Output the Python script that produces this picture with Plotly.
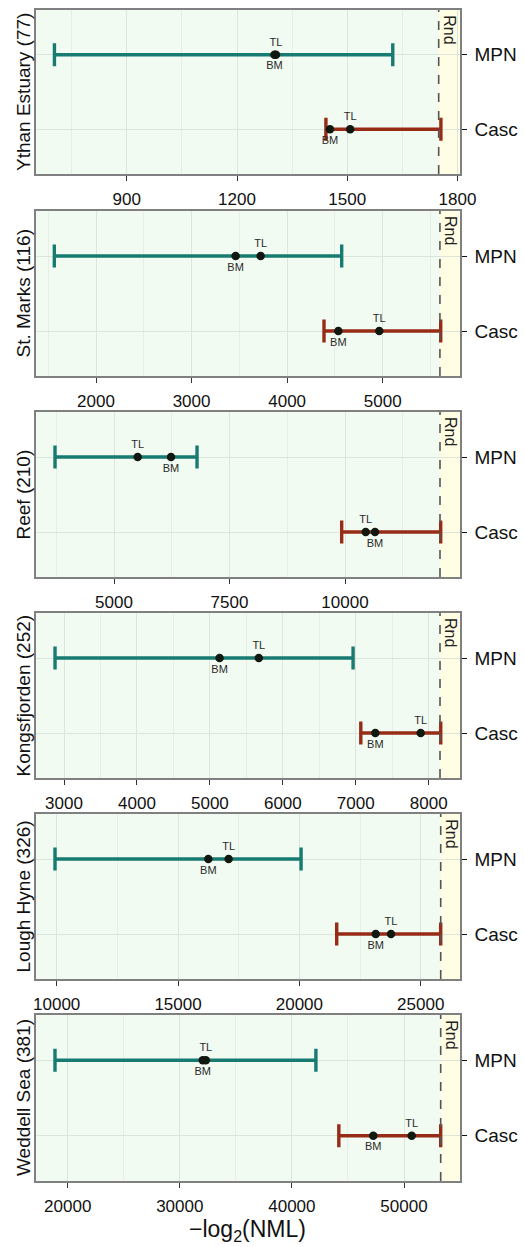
import plotly.graph_objects as go

# ---------------- data ----------------
sites = ["Ythan Estuary", "St. Marks", "Reef", "Kongsfjorden", "Lough Hyne", "Weddell Sea"]
n_species = [77, 116, 210, 252, 326, 381]
methods = ["MPN", "Casc"]

mpn_lo = [703, 1564, 3723, 2877, 9930, 18867]
mpn_hi = [1624, 4571, 6797, 6963, 20070, 42141]
mpn_bm = [1302, 3461, 6234, 5133, 16248, 32050]
mpn_tl = [1306, 3723, 5513, 5671, 17085, 32320]

casc_lo = [1442, 4386, 9928, 7069, 21539, 44187]
casc_hi = [1755, 5607, 12071, 8165, 25824, 53274]
casc_bm = [1453, 4536, 10649, 7268, 23146, 47261]
casc_tl = [1508, 4964, 10448, 7890, 23776, 50687]

rnd = [1749, 5599, 12056, 8155, 25824, 53274]

# axis settings (layout)
x_ranges = [[652, 1807], [1369, 5809], [3305, 12489], [2612, 8429], [9135, 26619], [17145, 54996]]
x_dticks = [300, 1000, 2500, 1000, 5000, 10000]

# ---------------- style ----------------
W, H = 524, 1247
FONT = "Liberation Sans, Arial, Helvetica, sans-serif"
C_MPN = "#177B72"
C_CASC = "#962B16"
BG = "#F2FBF1"
RND_BG = "#FFFDE4"
GRID = "#DCE5DC"
FRAME = "#808080"

tops = [10, 211, 412, 613, 814, 1015]
bots = [174, 376, 577, 778, 979, 1181]
xl, xr = 35.7, 460.0

fig = go.Figure()
layout = dict(
    width=W, height=H,
    margin=dict(l=0, r=0, t=0, b=0, autoexpand=False),
    paper_bgcolor="white",
    plot_bgcolor=BG,
    showlegend=False,
    font=dict(family=FONT, color="#111111"),
)
annotations = []
shapes = []

for i in range(6):
    k = "" if i == 0 else str(i + 1)
    xa, ya = "x" + k, "y" + k
    # error bars
    fig.add_trace(go.Scatter(
        x=[mpn_lo[i]], y=[methods[0]], xaxis=xa, yaxis=ya, mode="markers",
        marker=dict(size=1, color="rgba(0,0,0,0)"),
        error_x=dict(type="data", symmetric=False, array=[mpn_hi[i] - mpn_lo[i]], arrayminus=[0],
                     color=C_MPN, thickness=3.4, width=11.5),
        hoverinfo="skip"))
    fig.add_trace(go.Scatter(
        x=[casc_lo[i]], y=[methods[1]], xaxis=xa, yaxis=ya, mode="markers",
        marker=dict(size=1, color="rgba(0,0,0,0)"),
        error_x=dict(type="data", symmetric=False, array=[casc_hi[i] - casc_lo[i]], arrayminus=[0],
                     color=C_CASC, thickness=3.4, width=11.5),
        hoverinfo="skip"))
    # points
    fig.add_trace(go.Scatter(
        x=[mpn_bm[i], casc_bm[i]], y=methods, xaxis=xa, yaxis=ya, mode="markers+text",
        text=["BM", "BM"], textposition="bottom center",
        textfont=dict(size=11, color="#2a2a2a", family=FONT),
        marker=dict(size=8.5, color="#101810")))
    fig.add_trace(go.Scatter(
        x=[mpn_tl[i], casc_tl[i]], y=methods, xaxis=xa, yaxis=ya, mode="markers+text",
        text=["TL", "TL"], textposition="top center",
        textfont=dict(size=11, color="#2a2a2a", family=FONT),
        marker=dict(size=8.5, color="#101810")))

    dom_y = [1 - bots[i] / H, 1 - tops[i] / H]
    layout["xaxis" + k] = dict(
        domain=[xl / W, xr / W], anchor=ya, range=x_ranges[i],
        tickmode="linear", tick0=0, dtick=x_dticks[i], tickformat="d",
        showgrid=True, gridcolor=GRID, gridwidth=1, zeroline=False,
        minor=dict(tick0=0, dtick=x_dticks[i] / 2, showgrid=True, gridcolor="#E6EEE6", gridwidth=0.8),
        showline=True, mirror=True, linecolor=FRAME, linewidth=1.5,
        ticks="outside", ticklen=5, tickcolor="#333333", tickwidth=1,
        tickfont=dict(size=17, family=FONT, color="#111111"),
        ticklabelstandoff=4, automargin=False,
    )
    layout["yaxis" + k] = dict(
        domain=dom_y, anchor=xa, side="right", type="category",
        categoryorder="array", categoryarray=["Casc", "MPN"], range=[-0.6, 1.6],
        showgrid=True, gridcolor=GRID, gridwidth=1, zeroline=False,
        showline=True, mirror=True, linecolor=FRAME, linewidth=1.5,
        ticks="outside", ticklen=5, tickcolor="#111111", tickwidth=1.2,
        tickfont=dict(size=19, family=FONT, color="#111111"),
        ticklabelstandoff=4, automargin=False,
    )
    # random-expectation region and line
    shapes.append(dict(type="rect", xref=xa, yref=ya + " domain", x0=rnd[i], x1=x_ranges[i][1],
                       y0=0, y1=1, fillcolor=RND_BG, line=dict(width=0), layer="below"))
    shapes.append(dict(type="line", xref=xa, yref=ya + " domain", x0=rnd[i], x1=rnd[i],
                       y0=0, y1=1, line=dict(color="#555555", width=1.6, dash="dash"), layer="above"))
    annotations.append(dict(text="Rnd", xref=xa, yref=ya + " domain", x=rnd[i], y=1,
                            xanchor="left", yanchor="top", xshift=0, yshift=-3, textangle=90,
                            showarrow=False, font=dict(size=16, family=FONT, color="#222222")))
    # panel title on left
    annotations.append(dict(text=f"{sites[i]} ({n_species[i]})", xref="paper", yref="paper",
                            x=23 / W, y=1 - (tops[i] + bots[i]) / 2 / H, xanchor="center",
                            yanchor="middle", textangle=-90, showarrow=False,
                            font=dict(size=19, family=FONT, color="#111111")))

annotations.append(dict(text="\u2212log<sub>2</sub>(NML)", xref="paper", yref="paper",
                        x=(xl + xr) / 2 / W, y=1 - 1230 / H, xanchor="center", yanchor="middle",
                        showarrow=False, font=dict(size=23, family=FONT, color="#111111")))

layout["annotations"] = annotations
layout["shapes"] = shapes
fig.update_layout(**layout)
fig.write_html("out.html", config={"displayModeBar": False},
               post_script="document.body.style.margin='0';document.body.style.padding='0';")
